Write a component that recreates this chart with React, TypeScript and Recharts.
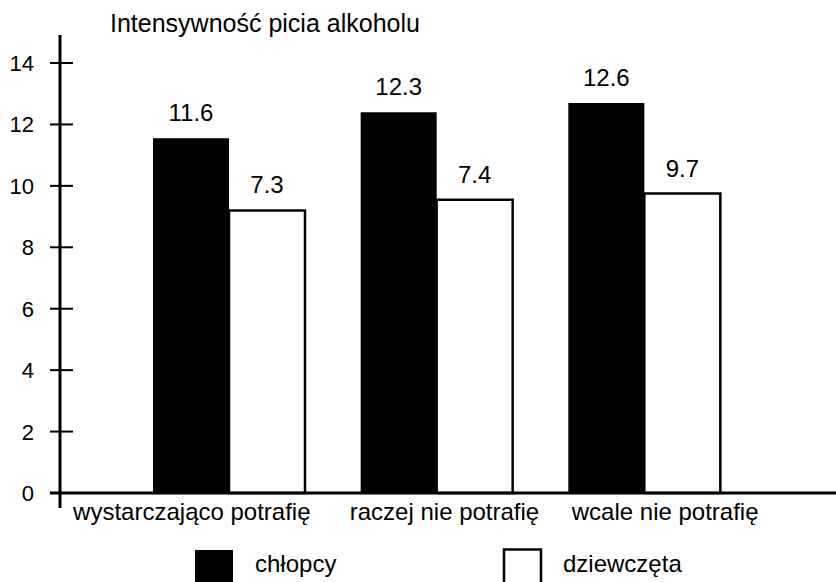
import React from 'react';
import { BarChart, Bar, XAxis, YAxis, Legend, LabelList } from 'recharts';

const categories = ['wystarczająco potrafię', 'raczej nie potrafię', 'wcale nie potrafię'];
const boysHeights = [11.55, 12.4, 12.7];
const girlsHeights = [9.2, 9.55, 9.75];
const boysLabels = ['11.6', '12.3', '12.6'];
const girlsLabels = ['7.3', '7.4', '9.7'];
const yTicks = [0, 2, 4, 6, 8, 10, 12, 14];
const seriesNames = ['chłopcy', 'dziewczęta'];
const titleText = 'Intensywność picia alkoholu';

const data = categories.map((c, i) => ({
  cat: c,
  boys: boysHeights[i],
  girls: girlsHeights[i],
  boysLabel: boysLabels[i],
  girlsLabel: girlsLabels[i],
}));

const FONT = '"Liberation Sans", Arial, Helvetica, sans-serif';
const labelShift = [-37, 8, 21];

const YTick = (props: any) => {
  const { x, y, payload } = props;
  return (
    <g>
      <line x1={x - 10} x2={x + 13} y1={y} y2={y} stroke="#000" strokeWidth={2} />
      <text x={x - 26} y={y + 8} textAnchor="end" fontSize={22} fontFamily={FONT} fill="#000">
        {payload.value}
      </text>
    </g>
  );
};

const XTick = (props: any) => {
  const { x, y, payload, index } = props;
  return (
    <text x={x + (labelShift[index] || 0)} y={y + 27} textAnchor="middle" fontSize={24} fontFamily={FONT} fill="#000">
      {payload.value}
    </text>
  );
};

const YAxisDecor = (props: any) => {
  const vb = props.viewBox || {};
  const ax = vb.x + vb.width;
  return (
    <g>
      <line x1={ax} x2={ax} y1={vb.y - 28} y2={vb.y + vb.height + 15} stroke="#000" strokeWidth={3} />
      <text x={110} y={32} fontSize={25} fontFamily={FONT} fill="#000">{titleText}</text>
    </g>
  );
};

const XAxisDecor = (props: any) => {
  const vb = props.viewBox || {};
  return (
    <line x1={vb.x - 10} x2={vb.x + vb.width} y1={vb.y} y2={vb.y} stroke="#000" strokeWidth={3} />
  );
};

const legendPos = [{ box: 195, text: 255 }, { box: 504, text: 563 }];

const LegendContent = (props: any) => {
  const payload = props.payload || [];
  return (
    <svg width={836} height={34} style={{ display: 'block' }}>
      {payload.map((p: any, i: number) => {
        const pos = legendPos[i] || legendPos[0];
        const fill = p.payload && p.payload.fill ? p.payload.fill : p.color;
        return (
          <g key={i}>
            <rect
              x={pos.box}
              y={i === 0 ? 2 : 1.5}
              width={i === 0 ? 38 : 37}
              height={40}
              fill={fill}
              stroke="#000"
              strokeWidth={i === 0 ? 0 : 2.5}
            />
            <text x={pos.text} y={24} fontSize={24} fontFamily={FONT} fill="#000">
              {p.value}
            </text>
          </g>
        );
      })}
    </svg>
  );
};

export default function App() {
  return (
    <div style={{ position: 'absolute', left: 0, top: 0, width: 836, height: 582, background: '#fff' }}>
      <BarChart
        width={836}
        height={582}
        data={data}
        margin={{ top: 63, right: 0, bottom: 29, left: 0 }}
        barSize={76}
        barGap={0}
      >
        <XAxis
          dataKey="cat"
          padding={{ left: 65, right: 88 }}
          axisLine={false}
          tickLine={false}
          tickSize={0}
          tickMargin={0}
          height={60}
          tick={<XTick />}
          interval={0}
          label={{ content: <XAxisDecor /> }}
        />
        <YAxis
          domain={[0, 14]}
          ticks={yTicks}
          width={60}
          axisLine={false}
          tickLine={false}
          tickSize={0}
          tickMargin={0}
          tick={<YTick />}
          label={{ content: <YAxisDecor /> }}
        />
        <Legend
          layout="horizontal"
          verticalAlign="middle"
          align="center"
          wrapperStyle={{ position: 'absolute', top: 548, left: 0, width: 836, height: 34 }}
          content={<LegendContent />}
        />
        <Bar dataKey="boys" name={seriesNames[0]} fill="#000" isAnimationActive={false}>
          <LabelList dataKey="boysLabel" position="top" offset={17} fill="#000" fontSize={24} fontFamily={FONT} />
        </Bar>
        <Bar dataKey="girls" name={seriesNames[1]} fill="#fff" stroke="#000" strokeWidth={2.5} isAnimationActive={false}>
          <LabelList dataKey="girlsLabel" position="top" offset={17} fill="#000" fontSize={24} fontFamily={FONT} />
        </Bar>
      </BarChart>
    </div>
  );
}
